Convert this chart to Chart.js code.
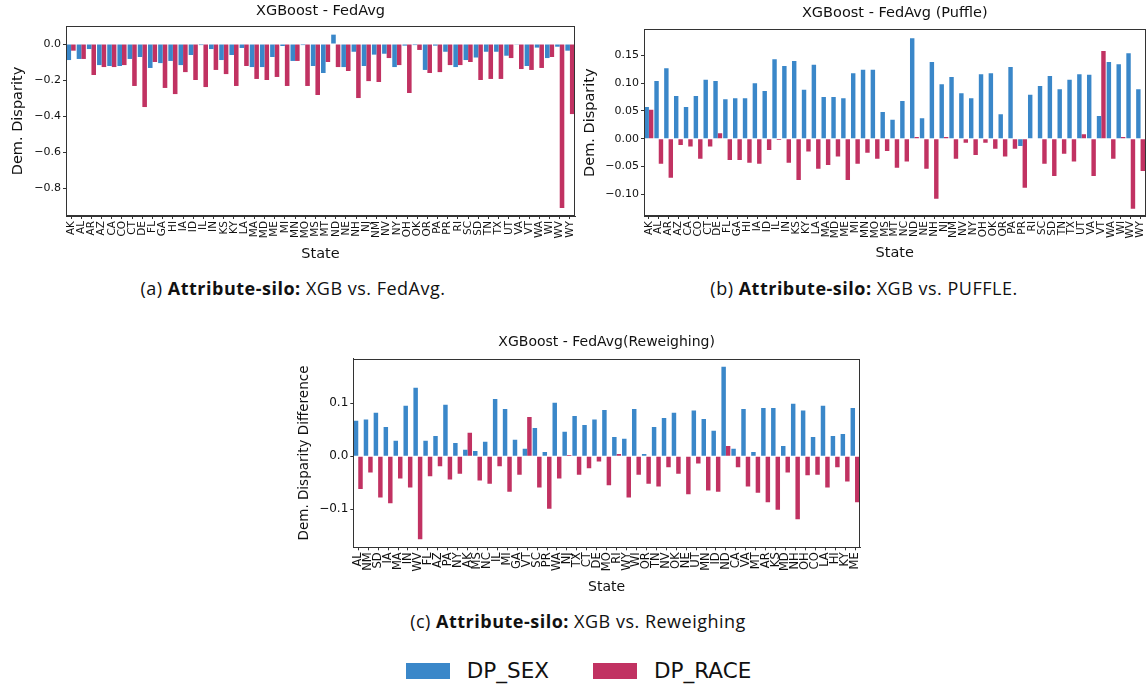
<!DOCTYPE html>
<html>
<head>
<meta charset="utf-8">
<script src="https://cdn.jsdelivr.net/npm/chart.js@4.4.1/dist/chart.umd.min.js"></script>
<style>
  body { margin: 0; background: #fff; width: 1147px; height: 687px; overflow: hidden; position: relative; }
  canvas { position: absolute; }
  .cap { position: absolute; width: 480px; text-align: center; font-family: "Open Sans", sans-serif; font-size: 18px; letter-spacing: 0.5px; line-height: 22px; color: #111; }
  .cap b { font-weight: 700; }
  #legend { position: absolute; left: 0; width: 1157px; top: 658px; display: flex; justify-content: center; font-family: "DejaVu Sans", sans-serif; font-size: 21.5px; color: #111; }
  .item { display: flex; align-items: center; margin: 0 22px; }
  .swatch { width: 44px; height: 16px; margin-right: 17px; }
</style>
</head>
<body>
<canvas id="chartA" width="580" height="265" style="left:0;top:0"></canvas>
<canvas id="chartB" width="567" height="265" style="left:580px;top:0"></canvas>
<canvas id="chartC" width="580" height="270" style="left:290px;top:330px"></canvas>
<div class="cap" style="left:53px;top:277px">(a) <b>Attribute-silo:</b> XGB vs. FedAvg.</div>
<div class="cap" style="left:624px;top:277px">(b) <b>Attribute-silo:</b> XGB vs. PUFFLE.</div>
<div class="cap" style="left:338px;top:610px">(c) <b>Attribute-silo:</b> XGB vs. Reweighing</div>
<div id="legend"></div>
<script>
const sexColor = "rgb(58,135,201)";
const raceColor = "rgb(193,50,98)";

// (a) XGBoost - FedAvg
const statesA = ["AK","AL","AR","AZ","CA","CO","CT","DE","FL","GA","HI","IA","ID","IL","IN","KS","KY","LA","MA","MD",
  "ME","MI","MN","MO","MS","MT","ND","NE","NH","NJ","NM","NV","NY","OH","OK","OR","PA","PR","RI","SC",
  "SD","TN","TX","UT","VA","VT","WA","WI","WV","WY"];
const sexA = [-0.089,-0.083,-0.028,-0.117,-0.122,-0.122,-0.083,-0.072,-0.133,-0.106,-0.094,-0.117,-0.061,-0.006,-0.028,-0.089,-0.061,-0.022,-0.128,-0.128,
  -0.072,-0.011,-0.094,-0.006,-0.122,-0.161,0.052,-0.128,-0.043,-0.122,-0.059,-0.054,-0.128,-0.009,-0.006,-0.144,-0.009,-0.043,-0.128,-0.089,
  -0.075,-0.043,-0.043,-0.065,-0.004,-0.122,-0.020,-0.078,-0.015,-0.037];
const raceA = [-0.037,-0.083,-0.172,-0.128,-0.128,-0.117,-0.233,-0.350,-0.100,-0.244,-0.278,-0.156,-0.200,-0.239,-0.144,-0.167,-0.233,-0.122,-0.194,-0.200,
  -0.183,-0.233,-0.094,-0.233,-0.283,-0.100,-0.128,-0.150,-0.300,-0.206,-0.211,-0.078,-0.117,-0.272,-0.033,-0.161,-0.156,-0.117,-0.117,-0.100,
  -0.200,-0.194,-0.194,-0.078,-0.139,-0.144,-0.133,-0.072,-0.911,-0.389];
const yTicksA = [-0.8, -0.6, -0.4, -0.2, 0.0];

// (b) XGBoost - FedAvg (Puffle)
const statesB = ["AK","AL","AR","AZ","CA","CO","CT","DE","FL","GA","HI","IA","ID","IL","IN","KS","KY","LA","MA","MD",
  "ME","MI","MN","MO","MS","MT","NC","ND","NE","NH","NJ","NM","NV","NY","OH","OK","OR","PA","PR","RI",
  "SC","SD","TN","TX","UT","VA","VT","WA","WI","WV","WY"];
const sexB = [0.057,0.104,0.127,0.077,0.057,0.077,0.106,0.104,0.071,0.073,0.073,0.100,0.086,0.143,0.131,0.140,0.088,0.133,0.075,0.075,
  0.073,0.118,0.124,0.124,0.048,0.034,0.068,0.181,0.037,0.138,0.098,0.111,0.082,0.073,0.116,0.118,0.044,0.129,-0.013,0.079,
  0.095,0.113,0.089,0.106,0.116,0.115,0.041,0.138,0.134,0.154,0.089];
const raceB = [0.052,-0.045,-0.070,-0.011,-0.014,-0.036,-0.014,0.010,-0.038,-0.038,-0.043,-0.045,-0.020,-0.002,-0.043,-0.074,-0.023,-0.054,-0.047,-0.032,
  -0.074,-0.045,-0.025,-0.036,-0.022,-0.052,-0.041,0.003,-0.054,-0.108,0.003,-0.036,-0.007,-0.029,-0.007,-0.018,-0.032,-0.018,-0.088,0.001,
  -0.045,-0.067,-0.027,-0.041,0.008,-0.067,0.158,-0.036,0.003,-0.126,-0.058];
const yTicksB = [-0.10, -0.05, 0.00, 0.05, 0.10, 0.15];

// (c) XGBoost - FedAvg(Reweighing)
const statesC = ["AL","NM","SD","IA","MA","IN","WV","FL","AZ","PA","NY","AK","MS","NC","IL","MI","GA","VT","SC","PR",
  "WA","NJ","TX","CT","DE","MO","RI","WY","WI","OR","TN","NV","OK","NE","UT","MN","ID","ND","CA","VA",
  "MT","AR","KS","MD","NH","OH","CO","LA","HI","KY","ME"];
const sexC = [0.067,0.069,0.082,0.055,0.029,0.095,0.129,0.029,0.038,0.097,0.025,0.012,0.010,0.027,0.108,0.089,0.031,0.014,0.053,0.008,
  0.101,0.046,0.076,0.059,0.069,0.087,0.036,0.033,0.089,0.004,0.055,0.072,0.082,-0.001,0.086,0.070,0.048,0.169,0.014,0.089,
  0.008,0.091,0.091,0.019,0.099,0.086,0.036,0.095,0.038,0.042,0.091];
const raceC = [-0.062,-0.031,-0.078,-0.089,-0.042,-0.059,-0.157,-0.038,-0.019,-0.044,-0.033,0.044,-0.046,-0.052,-0.019,-0.067,-0.035,0.074,-0.059,-0.099,
  -0.042,0.002,-0.035,-0.023,-0.010,-0.055,0.004,-0.078,-0.035,-0.052,-0.057,-0.021,-0.033,-0.072,-0.014,-0.065,-0.067,0.019,-0.021,-0.057,
  -0.069,-0.087,-0.101,-0.031,-0.119,-0.036,-0.035,-0.059,-0.021,-0.048,-0.087];
const yTicksC = [-0.1, 0.0, 0.1];

// draws the full box round the plot and centres the title over the plot
const framePlugin = {
  id: "frame",
  afterLayout(chart) {
    if (chart.titleBlock) {
      chart.titleBlock.left = chart.chartArea.left;
      chart.titleBlock.right = chart.chartArea.right;
    }
  },
  afterDatasetsDraw(chart) {
    let a = chart.chartArea;
    let ctx = chart.ctx;
    ctx.save();
    ctx.strokeStyle = "#333";
    ctx.lineWidth = 1;
    ctx.strokeRect(Math.round(a.left) + 0.5, Math.round(a.top) + 0.5,
      Math.round(a.right - a.left) - 1, Math.round(a.bottom - a.top) - 1);
    ctx.restore();
  }
};

function makeChart(id, o) {
  let ctx = document.getElementById(id).getContext("2d");
  return new Chart(ctx, {
    type: "bar",
    data: {
      labels: o.labels,
      datasets: [
        { label: "DP_SEX", data: o.sex, backgroundColor: sexColor, borderWidth: 0,
          categoryPercentage: 0.9, barPercentage: 1.0 },
        { label: "DP_RACE", data: o.race, backgroundColor: raceColor, borderWidth: 0,
          categoryPercentage: 0.9, barPercentage: 1.0 }
      ]
    },
    options: {
      responsive: false,
      animation: false,
      devicePixelRatio: 1,
      layout: { padding: { left: 0, right: o.padRight, top: 0, bottom: 0 } },
      plugins: {
        legend: { display: false },
        tooltip: { enabled: false },
        title: {
          display: true, text: o.title, color: "#111",
          font: { family: "DejaVu Sans", size: o.titleSize, weight: "normal" },
          padding: o.titlePad
        }
      },
      scales: {
        x: {
          grid: { display: true, drawOnChartArea: false, offset: false, tickLength: 3, tickColor: "#333" },
          border: { color: "#333" },
          ticks: { autoSkip: false, maxRotation: 90, minRotation: 90, padding: 2, color: "#111",
            font: { family: "DejaVu Sans", size: o.xTickSize } },
          title: { display: true, text: "State", color: "#111",
            font: { family: "DejaVu Sans", size: o.axisSize }, padding: { top: 0, bottom: o.xTitlePad } },
          afterFit(scale) {
            scale.height = o.xHeight;
            scale.paddingLeft = 0;
            scale.paddingRight = 0;
          }
        },
        y: {
          min: o.yMin,
          max: o.yMax,
          grid: { display: true, drawOnChartArea: false, tickLength: 3, tickColor: "#333" },
          border: { color: "#333" },
          afterBuildTicks(scale) {
            scale.ticks = o.yTicks.map(v => ({ value: v }));
          },
          ticks: {
            padding: 2, color: "#111",
            font: { family: "DejaVu Sans", size: o.yTickSize },
            callback: v => v.toFixed(o.decimals).replace("-", "\u2212")
          },
          title: { display: true, text: o.yTitle, color: "#111",
            font: { family: "DejaVu Sans", size: o.yTitleSize }, padding: { top: o.yTitlePad, bottom: 0 } },
          afterFit(scale) {
            scale.width = o.yWidth;
            scale.paddingTop = 0;
            scale.paddingBottom = 0;
          }
        }
      }
    },
    plugins: [framePlugin]
  });
}

let chartA = makeChart("chartA", {
  labels: statesA, sex: sexA, race: raceA, yTicks: yTicksA, decimals: 1,
  yMin: -0.955, yMax: 0.1, title: "XGBoost - FedAvg", yTitle: "Dem. Disparity",
  titleSize: 14.5, axisSize: 14.5, yTitleSize: 14.5, xTickSize: 10.5, yTickSize: 11,
  titlePad: { top: 2.8, bottom: 5.8 }, xTitlePad: 2.3, yTitlePad: 9.8,
  yWidth: 66, xHeight: 49, padRight: 5
});

let chartB = makeChart("chartB", {
  labels: statesB, sex: sexB, race: raceB, yTicks: yTicksB, decimals: 2,
  yMin: -0.139, yMax: 0.197, title: "XGBoost - FedAvg (Puffle)", yTitle: "Dem. Disparity",
  titleSize: 14.5, axisSize: 14.5, yTitleSize: 14.5, xTickSize: 10.5, yTickSize: 11,
  titlePad: { top: 4.8, bottom: 7.1 }, xTitlePad: 2.8, yTitlePad: 1.8,
  yWidth: 64, xHeight: 49, padRight: 1.5
});

let chartC = makeChart("chartC", {
  labels: statesC, sex: sexC, race: raceC, yTicks: yTicksC, decimals: 1,
  yMin: -0.172, yMax: 0.184, title: "XGBoost - FedAvg(Reweighing)", yTitle: "Dem. Disparity Difference",
  titleSize: 14, axisSize: 14, yTitleSize: 13.5, xTickSize: 11.5, yTickSize: 12,
  titlePad: { top: 4.1, bottom: 7.8 }, xTitlePad: 4.1, yTitlePad: 5.9,
  yWidth: 63.3, xHeight: 52.7, padRight: 10
});

// shared legend built from the datasets of the last chart
let legend = document.getElementById("legend");
chartC.data.datasets.forEach(ds => {
  let item = document.createElement("div");
  item.classList.add("item");
  let sw = document.createElement("span");
  sw.classList.add("swatch");
  sw.style.background = ds.backgroundColor;
  item.appendChild(sw);
  let txt = document.createElement("span");
  txt.textContent = ds.label;
  item.appendChild(txt);
  legend.appendChild(item);
});
</script>
</body>
</html>
